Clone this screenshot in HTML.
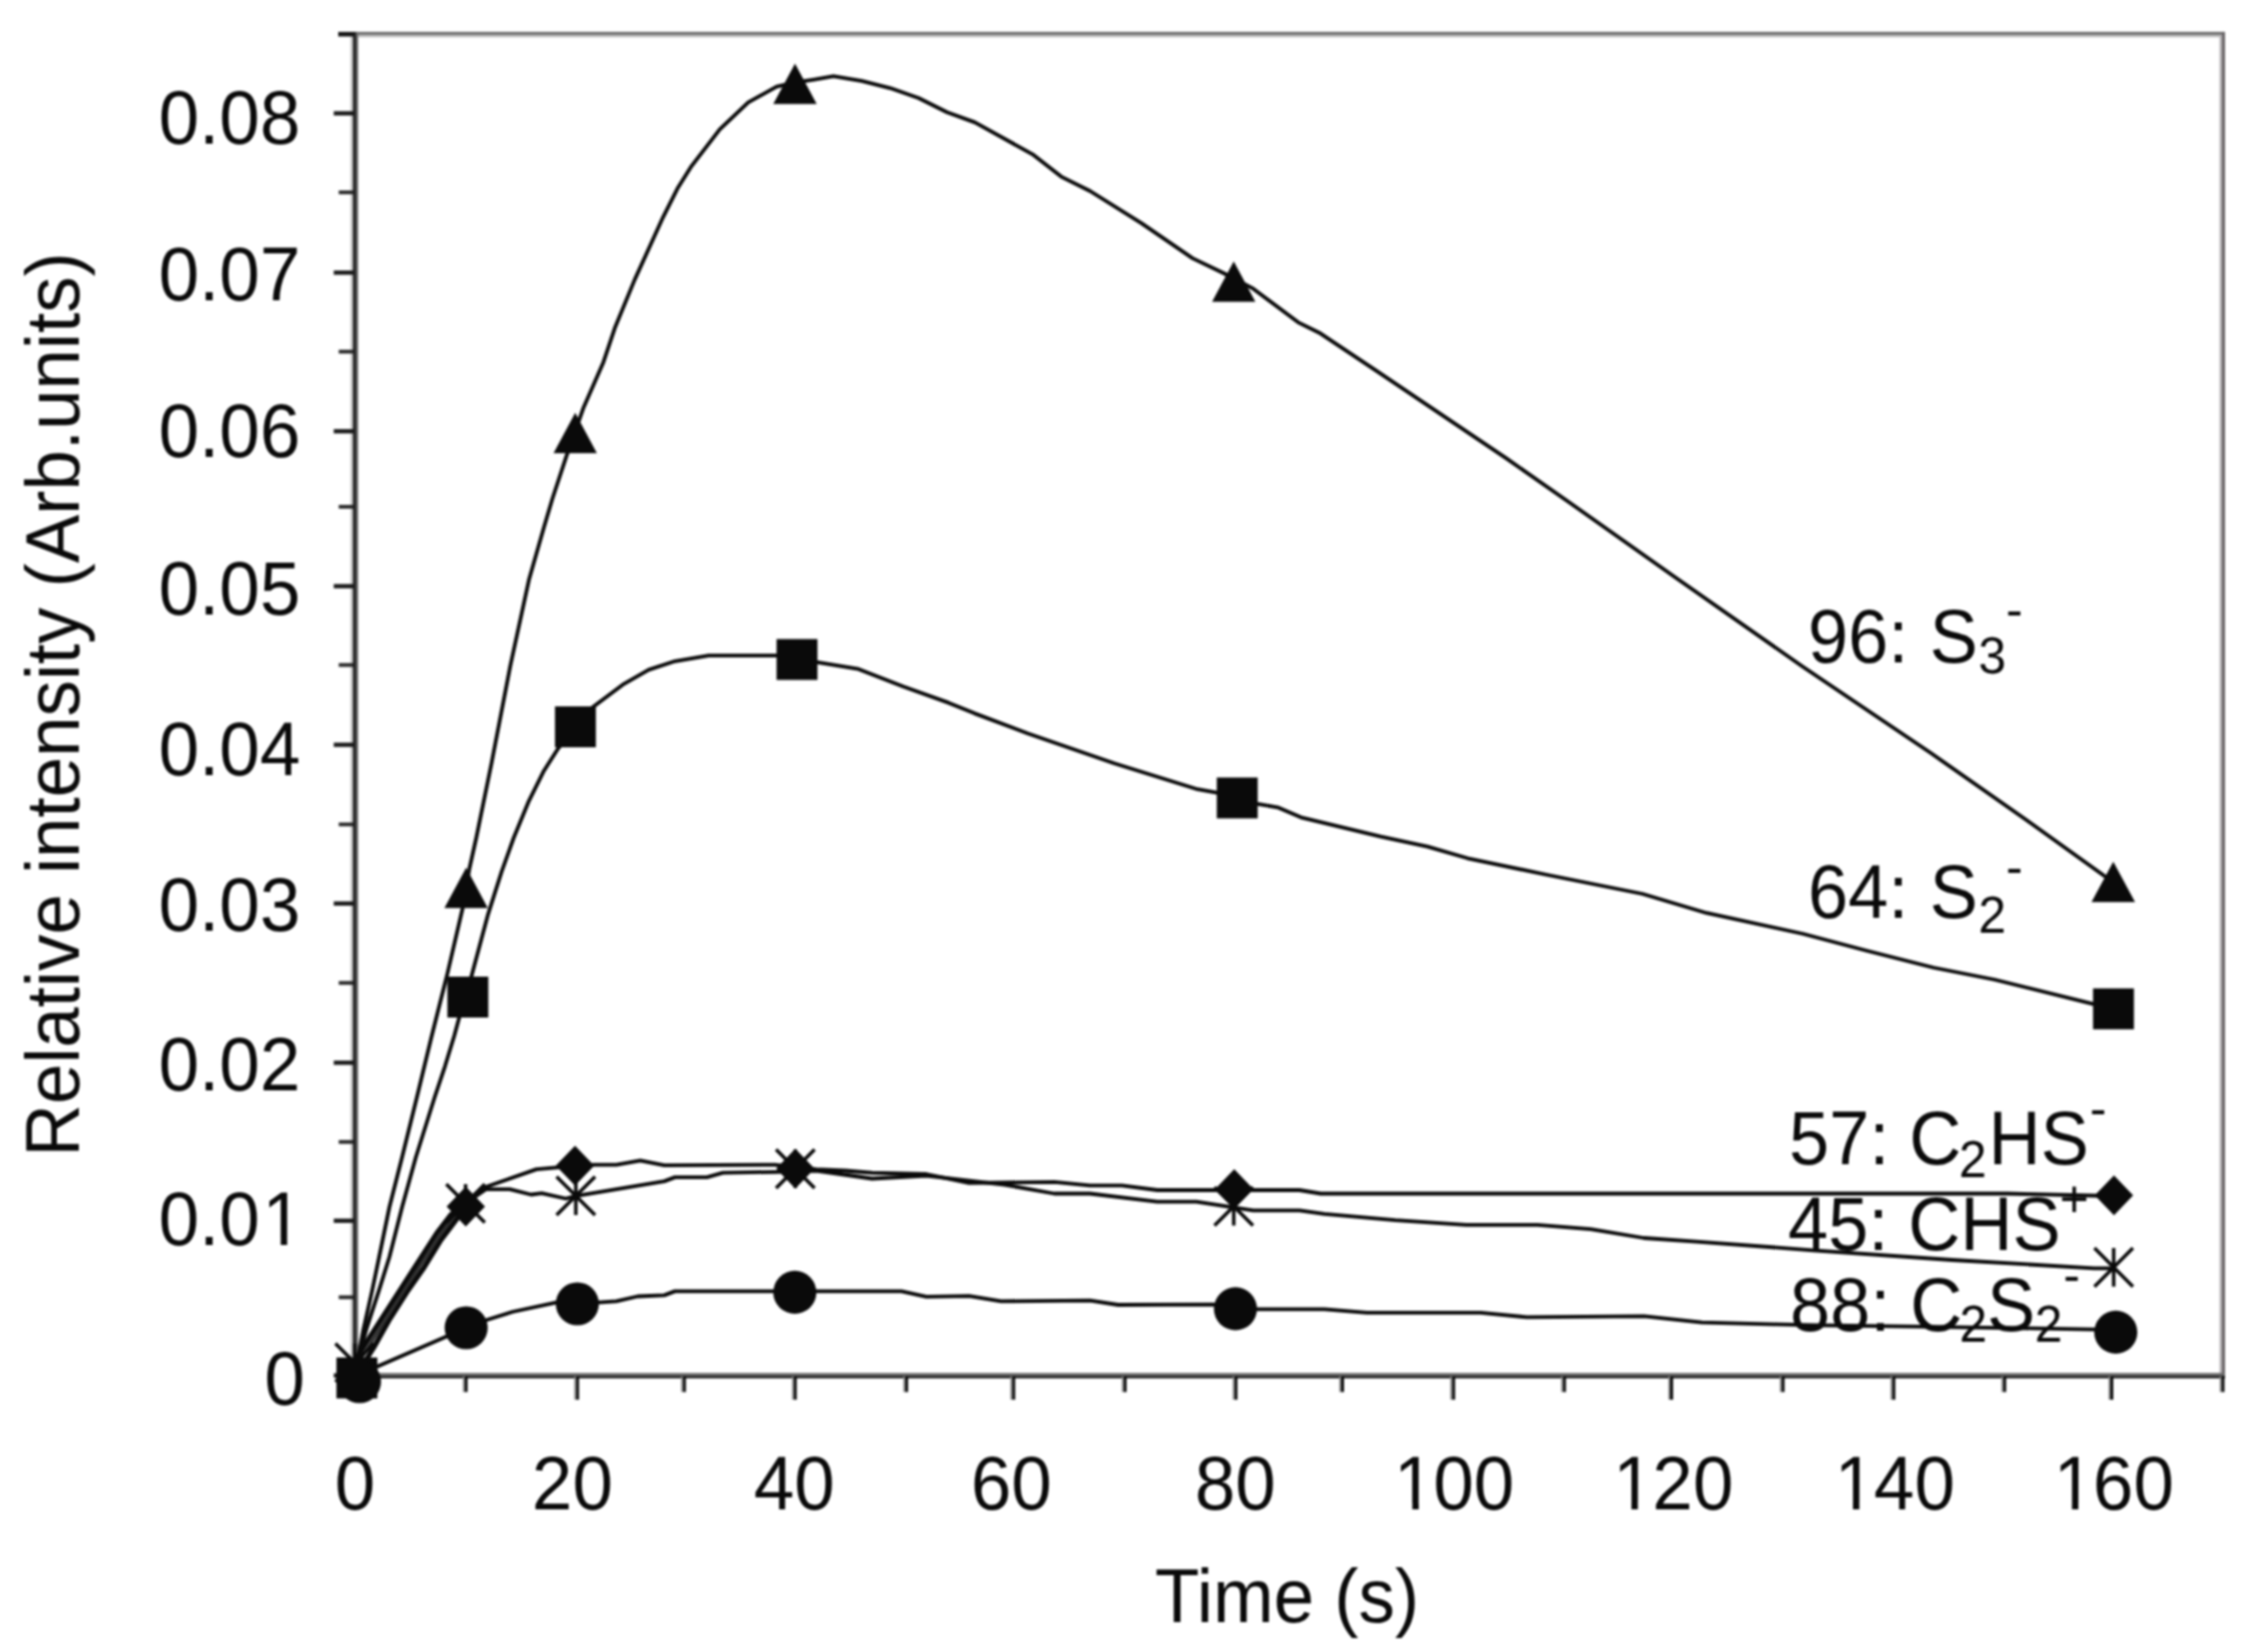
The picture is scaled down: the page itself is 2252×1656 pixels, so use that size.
<!DOCTYPE html>
<html lang="en">
<head>
<meta charset="utf-8">
<title>Relative intensity vs time</title>
<style>
html,body{margin:0;padding:0;background:#fff;}
body{width:2252px;height:1656px;overflow:hidden;}
svg{display:block;filter:blur(1.0px);}
svg text{font-family:"Liberation Sans",Arial,Helvetica,sans-serif;fill:#0a0a0a;}
</style>
</head>
<body>
<svg width="2252" height="1656" viewBox="0 0 2252 1656">
<rect x="0" y="0" width="2252" height="1656" fill="#ffffff"/>
<rect x="356.30" y="31.95" width="1873.70" height="2.95" fill="#6b6b6b"/>
<rect x="356.30" y="34.90" width="1870.70" height="2.40" fill="#b9b9b9"/>
<rect x="2224.50" y="34.90" width="2.40" height="1344.10" fill="#b6b3b6"/>
<rect x="2226.90" y="31.95" width="3.10" height="1347.05" fill="#6a6668"/>
<rect x="351.30" y="31.95" width="2.50" height="1349.65" fill="#c4c4c4"/>
<rect x="353.80" y="31.95" width="3.10" height="1349.65" fill="#1c1c1c"/>
<rect x="356.90" y="31.95" width="2.15" height="1349.65" fill="#6a6a6a"/>
<rect x="336.50" y="1376.30" width="1893.50" height="2.90" fill="#686868"/>
<rect x="336.50" y="1379.20" width="1893.50" height="2.40" fill="#111111"/>
<rect x="334.50" y="1376.65" width="19.50" height="4.30" fill="#1a1a1a"/>
<rect x="339.50" y="1298.50" width="14.50" height="3.80" fill="#2a2a2a"/>
<rect x="334.50" y="1221.55" width="19.50" height="4.30" fill="#1a1a1a"/>
<rect x="339.50" y="1142.80" width="14.50" height="3.80" fill="#2a2a2a"/>
<rect x="334.50" y="1063.15" width="19.50" height="4.30" fill="#1a1a1a"/>
<rect x="339.50" y="983.40" width="14.50" height="3.80" fill="#2a2a2a"/>
<rect x="334.50" y="903.55" width="19.50" height="4.30" fill="#1a1a1a"/>
<rect x="339.50" y="824.50" width="14.50" height="3.80" fill="#2a2a2a"/>
<rect x="334.50" y="744.45" width="19.50" height="4.30" fill="#1a1a1a"/>
<rect x="339.50" y="664.70" width="14.50" height="3.80" fill="#2a2a2a"/>
<rect x="334.50" y="585.45" width="19.50" height="4.30" fill="#1a1a1a"/>
<rect x="339.50" y="506.10" width="14.50" height="3.80" fill="#2a2a2a"/>
<rect x="334.50" y="430.15" width="19.50" height="4.30" fill="#1a1a1a"/>
<rect x="339.50" y="350.60" width="14.50" height="3.80" fill="#2a2a2a"/>
<rect x="334.50" y="271.15" width="19.50" height="4.30" fill="#1a1a1a"/>
<rect x="339.50" y="190.90" width="14.50" height="3.80" fill="#2a2a2a"/>
<rect x="334.50" y="111.45" width="19.50" height="4.30" fill="#1a1a1a"/>
<rect x="339.00" y="31.95" width="15.00" height="4.65" fill="#151515"/>
<rect x="353.45" y="1379.80" width="1.90" height="23.30" fill="#8a8a8a"/>
<rect x="355.35" y="1379.80" width="2.85" height="23.30" fill="#050505"/>
<rect x="463.85" y="1379.80" width="1.90" height="15.60" fill="#8a8a8a"/>
<rect x="465.75" y="1379.80" width="2.85" height="15.60" fill="#050505"/>
<rect x="575.55" y="1379.80" width="1.90" height="23.30" fill="#8a8a8a"/>
<rect x="577.45" y="1379.80" width="2.85" height="23.30" fill="#050505"/>
<rect x="682.65" y="1379.80" width="1.90" height="15.60" fill="#8a8a8a"/>
<rect x="684.55" y="1379.80" width="2.85" height="15.60" fill="#050505"/>
<rect x="793.75" y="1379.80" width="1.90" height="23.30" fill="#8a8a8a"/>
<rect x="795.65" y="1379.80" width="2.85" height="23.30" fill="#050505"/>
<rect x="905.35" y="1379.80" width="1.90" height="15.60" fill="#8a8a8a"/>
<rect x="907.25" y="1379.80" width="2.85" height="15.60" fill="#050505"/>
<rect x="1012.65" y="1379.80" width="1.90" height="23.30" fill="#8a8a8a"/>
<rect x="1014.55" y="1379.80" width="2.85" height="23.30" fill="#050505"/>
<rect x="1124.35" y="1379.80" width="1.90" height="15.60" fill="#8a8a8a"/>
<rect x="1126.25" y="1379.80" width="2.85" height="15.60" fill="#050505"/>
<rect x="1235.45" y="1379.80" width="1.90" height="23.30" fill="#8a8a8a"/>
<rect x="1237.35" y="1379.80" width="2.85" height="23.30" fill="#050505"/>
<rect x="1342.25" y="1379.80" width="1.90" height="15.60" fill="#8a8a8a"/>
<rect x="1344.15" y="1379.80" width="2.85" height="15.60" fill="#050505"/>
<rect x="1453.55" y="1379.80" width="1.90" height="23.30" fill="#8a8a8a"/>
<rect x="1455.45" y="1379.80" width="2.85" height="23.30" fill="#050505"/>
<rect x="1564.65" y="1379.80" width="1.90" height="15.60" fill="#8a8a8a"/>
<rect x="1566.55" y="1379.80" width="2.85" height="15.60" fill="#050505"/>
<rect x="1672.05" y="1379.80" width="1.90" height="23.30" fill="#8a8a8a"/>
<rect x="1673.95" y="1379.80" width="2.85" height="23.30" fill="#050505"/>
<rect x="1783.75" y="1379.80" width="1.90" height="15.60" fill="#8a8a8a"/>
<rect x="1785.65" y="1379.80" width="2.85" height="15.60" fill="#050505"/>
<rect x="1894.75" y="1379.80" width="1.90" height="23.30" fill="#8a8a8a"/>
<rect x="1896.65" y="1379.80" width="2.85" height="23.30" fill="#050505"/>
<rect x="2005.85" y="1379.80" width="1.90" height="15.60" fill="#8a8a8a"/>
<rect x="2007.75" y="1379.80" width="2.85" height="15.60" fill="#050505"/>
<rect x="2113.25" y="1379.80" width="1.90" height="23.30" fill="#8a8a8a"/>
<rect x="2115.15" y="1379.80" width="2.85" height="23.30" fill="#050505"/>
<rect x="2224.65" y="1379.80" width="1.90" height="15.60" fill="#8a8a8a"/>
<rect x="2226.55" y="1379.80" width="2.85" height="15.60" fill="#050505"/>
<polyline points="357.5,1368.0 364.3,1332.4 373.0,1293.7 380.0,1260.0 390.3,1210.0 403.0,1160.0 417.8,1100.0 432.3,1040.0 448.5,975.6 463.7,910.3 470.5,870.5 477.3,840.0 492.6,765.2 511.4,667.7 530.1,581.3 545.1,528.8 553.6,500.0 567.8,456.8 584.9,408.4 604.8,362.9 616.2,328.8 636.1,280.4 664.5,217.8 678.8,189.3 693.0,166.6 721.4,129.6 749.9,102.6 778.3,86.9 796.8,82.6 815.3,79.8 835.3,76.4 863.7,81.2 892.2,88.3 920.6,98.3 949.1,112.5 977.0,122.6 1034.7,154.6 1063.6,177.1 1092.5,191.5 1143.8,223.6 1195.2,258.9 1227.2,274.3 1256.1,289.4 1301.0,323.1 1323.5,334.3 1381.2,372.8 1445.4,416.1 1509.6,459.4 1573.7,504.3 1678.3,578.3 1806.7,668.2 1935.0,754.8 2031.3,822.2 2108.3,877.5 2118.0,884.0" fill="none" stroke="#0a0a0a" stroke-width="3.8" stroke-linejoin="round" stroke-linecap="round"/>
<polyline points="357.5,1368.0 367.2,1332.4 379.8,1293.7 390.3,1260.0 403.0,1210.0 416.8,1160.0 435.6,1100.0 446.0,1068.8 455.3,1038.3 460.3,1019.7 472.2,979.8 489.2,916.3 502.7,873.9 514.8,840.0 530.1,802.8 545.1,772.7 559.4,750.2 576.7,728.6 593.9,708.9 624.0,686.4 650.2,671.4 676.5,662.8 710.3,657.1 778.6,657.1 819.1,663.9 860.4,670.7 905.4,688.3 950.5,704.4 976.7,715.1 1030.1,735.2 1116.9,765.2 1200.3,791.2 1219.7,794.6 1260.4,805.9 1280.4,809.3 1303.8,819.3 1383.9,838.6 1430.6,848.6 1470.7,860.3 1550.8,877.0 1646.0,896.0 1710.4,915.2 1806.7,936.0 1870.9,953.0 1938.0,970.0 1999.0,982.0 2097.7,1006.3 2118.0,1009.0" fill="none" stroke="#0a0a0a" stroke-width="3.8" stroke-linejoin="round" stroke-linecap="round"/>
<polyline points="357.5,1378.0 374.5,1351.0 390.6,1322.3 409.0,1293.5 425.1,1270.5 441.2,1244.1 455.0,1225.7 466.8,1209.5 484.2,1190.8 537.6,1172.1 557.6,1170.3 595.0,1167.6 617.7,1167.6 641.7,1163.3 665.8,1168.1 776.6,1167.6 818.0,1172.1 847.3,1173.5 874.0,1175.6 928.5,1177.0 971.2,1185.9 1056.7,1184.8 1092.3,1188.4 1124.3,1188.4 1159.9,1193.0 1302.3,1193.0 1323.7,1196.5 2012.0,1196.5 2118.7,1199.0" fill="none" stroke="#0a0a0a" stroke-width="3.8" stroke-linejoin="round" stroke-linecap="round"/>
<polyline points="357.6,1361.0 371.1,1339.5 404.4,1287.8 437.8,1236.0 452.0,1217.5 466.6,1206.3 486.9,1192.1 510.9,1192.1 532.3,1197.5 542.9,1196.2 567.0,1201.5 577.1,1198.8 593.7,1196.2 665.8,1184.1 676.4,1180.1 708.5,1180.1 724.5,1175.6 776.6,1174.8 818.0,1173.5 874.0,1181.5 928.5,1178.7 1006.8,1187.6 1056.7,1196.5 1092.3,1196.5 1159.9,1204.7 1199.0,1204.7 1256.0,1213.3 1302.3,1213.3 1327.2,1216.8 1398.4,1223.2 1469.6,1227.9 1540.8,1227.9 1594.2,1232.1 1647.6,1241.0 1700.0,1244.6 1817.0,1253.3 1956.3,1263.0 2098.9,1271.3 2118.4,1271.3" fill="none" stroke="#0a0a0a" stroke-width="3.8" stroke-linejoin="round" stroke-linecap="round"/>
<polyline points="357.0,1379.0 446.3,1340.3 488.2,1323.0 513.6,1315.0 557.6,1305.6 599.5,1305.6 617.7,1304.3 639.1,1299.5 665.8,1298.4 676.4,1294.4 903.4,1294.4 928.5,1299.8 971.2,1299.1 1003.2,1304.4 1092.3,1303.7 1120.7,1308.0 1216.2,1307.6 1260.3,1312.3 1327.2,1312.3 1370.0,1315.8 1483.9,1315.8 1530.2,1320.4 1647.6,1319.4 1705.7,1325.6 1817.0,1328.4 1928.4,1329.8 2098.0,1332.6 2120.0,1332.6" fill="none" stroke="#0a0a0a" stroke-width="3.8" stroke-linejoin="round" stroke-linecap="round"/>
<polyline points="357.6,1361.0 371.1,1339.5 404.4,1287.8 437.8,1236.0 452.0,1217.5 464.0,1208.0" fill="none" stroke="#0a0a0a" stroke-width="5.0" stroke-linejoin="round" stroke-linecap="round"/>
<polyline points="357.5,1378.0 374.5,1351.0 390.6,1322.3 409.0,1293.5 425.1,1270.5 441.2,1244.1 455.0,1225.7 466.8,1209.5" fill="none" stroke="#0a0a0a" stroke-width="5.0" stroke-linejoin="round" stroke-linecap="round"/>
<polyline points="357.6,1369 376,1339.5 408.7,1287.8 442.5,1236 456.5,1217.5 465,1209" fill="none" stroke="#2e2e2e" stroke-width="3.2"/>
<polygon points="357.5,1361.0 376.5,1399.0 338.5,1399.0" fill="#0a0a0a"/>
<polygon points="467.2,869.8 488.9,910.2 445.4,910.2" fill="#0a0a0a"/>
<polygon points="576.5,413.8 598.2,454.2 554.8,454.2" fill="#0a0a0a"/>
<polygon points="796.8,63.8 818.5,104.2 775.0,104.2" fill="#0a0a0a"/>
<polygon points="1236.5,261.9 1258.2,302.4 1214.8,302.4" fill="#0a0a0a"/>
<polygon points="2118.0,863.8 2139.8,904.2 2096.2,904.2" fill="#0a0a0a"/>
<rect x="337.2" y="1360.8" width="41" height="41" fill="#0a0a0a"/>
<rect x="448.4" y="979.0" width="41" height="41" fill="#0a0a0a"/>
<rect x="556.2" y="708.1" width="41" height="41" fill="#0a0a0a"/>
<rect x="778.3" y="640.6" width="41" height="41" fill="#0a0a0a"/>
<rect x="1219.5" y="779.4" width="41" height="41" fill="#0a0a0a"/>
<rect x="2097.7" y="990.8" width="41" height="41" fill="#0a0a0a"/>
<polygon points="357.5,1359.0 376.8,1379.0 357.5,1399.0 338.2,1379.0" fill="#0a0a0a"/>
<polygon points="466.8,1189.5 486.1,1209.5 466.8,1229.5 447.6,1209.5" fill="#0a0a0a"/>
<polygon points="576.3,1148.4 595.5,1168.4 576.3,1188.4 557.0,1168.4" fill="#0a0a0a"/>
<polygon points="797.1,1151.6 816.4,1171.6 797.1,1191.6 777.9,1171.6" fill="#0a0a0a"/>
<polygon points="1237.0,1172.0 1256.2,1192.0 1237.0,1212.0 1217.8,1192.0" fill="#0a0a0a"/>
<polygon points="2118.7,1178.3 2137.9,1198.3 2118.7,1218.3 2099.4,1198.3" fill="#0a0a0a"/>
<path d="M355.5,1346.7V1385.3M336.2,1346.7L374.8,1385.3M374.8,1346.7L336.2,1385.3" stroke="#0a0a0a" stroke-width="3.5" fill="none"/>
<path d="M466.6,1187.0V1225.6M447.3,1187.0L485.9,1225.6M485.9,1187.0L447.3,1225.6" stroke="#0a0a0a" stroke-width="3.5" fill="none"/>
<path d="M577.1,1179.5V1218.1M557.8,1179.5L596.4,1218.1M596.4,1179.5L557.8,1218.1" stroke="#0a0a0a" stroke-width="3.5" fill="none"/>
<path d="M797.1,1152.3V1190.9M777.8,1152.3L816.4,1190.9M816.4,1152.3L777.8,1190.9" stroke="#0a0a0a" stroke-width="3.5" fill="none"/>
<path d="M1236.5,1190.0V1228.6M1217.2,1190.0L1255.8,1228.6M1255.8,1190.0L1217.2,1228.6" stroke="#0a0a0a" stroke-width="3.5" fill="none"/>
<path d="M2118.4,1251.1V1289.7M2099.1,1251.1L2137.7,1289.7M2137.7,1251.1L2099.1,1289.7" stroke="#0a0a0a" stroke-width="3.5" fill="none"/>
<circle cx="360.3" cy="1385.0" r="21.6" fill="#0a0a0a"/>
<circle cx="467.2" cy="1331.0" r="21.6" fill="#0a0a0a"/>
<circle cx="578.6" cy="1307.0" r="21.6" fill="#0a0a0a"/>
<circle cx="796.6" cy="1295.4" r="21.6" fill="#0a0a0a"/>
<circle cx="1238.2" cy="1311.9" r="21.6" fill="#0a0a0a"/>
<circle cx="2120.5" cy="1335.4" r="21.6" fill="#0a0a0a"/>
<text transform="translate(301.00,143.50) scale(0.9569,1)" font-size="76.28" text-anchor="end" >0.08</text>
<text transform="translate(301.00,300.60) scale(0.9569,1)" font-size="76.28" text-anchor="end" >0.07</text>
<text transform="translate(301.00,458.00) scale(0.9569,1)" font-size="76.28" text-anchor="end" >0.06</text>
<text transform="translate(301.00,616.00) scale(0.9569,1)" font-size="76.28" text-anchor="end" >0.05</text>
<text transform="translate(301.00,776.80) scale(0.9569,1)" font-size="76.28" text-anchor="end" >0.04</text>
<text transform="translate(301.00,932.50) scale(0.9569,1)" font-size="76.28" text-anchor="end" >0.03</text>
<text transform="translate(301.00,1093.20) scale(0.9569,1)" font-size="76.28" text-anchor="end" >0.02</text>
<text transform="translate(158.92,1248.30) scale(0.9569,1)" font-size="76.28" text-anchor="start" dx="0 0 0 2.72">0.01</text>
<rect x="267.35" y="1241.80" width="14.01" height="7.70" fill="#fff"/>
<rect x="287.81" y="1241.80" width="13.44" height="7.70" fill="#fff"/>
<text transform="translate(305.50,1407.60) scale(0.9569,1)" font-size="76.28" text-anchor="end" >0</text>
<text transform="translate(355.75,1513.40) scale(0.9569,1)" font-size="76.28" text-anchor="middle" >0</text>
<text transform="translate(573.65,1513.40) scale(0.9569,1)" font-size="76.28" text-anchor="middle" >20</text>
<text transform="translate(796.00,1513.40) scale(0.9569,1)" font-size="76.28" text-anchor="middle" >40</text>
<text transform="translate(1013.50,1513.40) scale(0.9569,1)" font-size="76.28" text-anchor="middle" >60</text>
<text transform="translate(1238.00,1513.40) scale(0.9569,1)" font-size="76.28" text-anchor="middle" >80</text>
<text transform="translate(1395.90,1513.40) scale(0.9569,1)" font-size="76.28" text-anchor="start" dx="1.25 -1.25 0">100</text>
<rect x="1401.45" y="1506.90" width="14.01" height="7.70" fill="#fff"/>
<rect x="1421.91" y="1506.90" width="13.44" height="7.70" fill="#fff"/>
<text transform="translate(1615.50,1513.40) scale(0.9569,1)" font-size="76.28" text-anchor="start" dx="1.25 -1.25 0">120</text>
<rect x="1621.05" y="1506.90" width="14.01" height="7.70" fill="#fff"/>
<rect x="1641.51" y="1506.90" width="13.44" height="7.70" fill="#fff"/>
<text transform="translate(1837.50,1513.40) scale(0.9569,1)" font-size="76.28" text-anchor="start" dx="1.25 -1.25 0">140</text>
<rect x="1843.05" y="1506.90" width="14.01" height="7.70" fill="#fff"/>
<rect x="1863.51" y="1506.90" width="13.44" height="7.70" fill="#fff"/>
<text transform="translate(2057.00,1513.40) scale(0.9569,1)" font-size="76.28" text-anchor="start" dx="1.25 -1.25 0">160</text>
<rect x="2062.55" y="1506.90" width="14.01" height="7.70" fill="#fff"/>
<rect x="2083.01" y="1506.90" width="13.44" height="7.70" fill="#fff"/>
<text transform="translate(1290.00,1626.00) scale(0.9569,1)" font-size="76.28" text-anchor="middle" >Time (s)</text>
<text transform="translate(78.60,1159.40) rotate(-90) scale(0.9569,1)" font-size="76.28" text-anchor="start" textLength="947.3" lengthAdjust="spacingAndGlyphs">Relative intensity (Arb.units)</text>
<text transform="translate(1812.00,664.30) scale(0.9569,1)" font-size="75.55" text-anchor="start" ><tspan dx="0.00" dy="0.00">96:</tspan><tspan dx="1.57" dy="0.00"> S</tspan><tspan font-size="52.25" dx="0.52" dy="10.50">3</tspan><tspan font-size="52.25" dx="0.00" dy="-46.00">-</tspan></text>
<text transform="translate(1812.00,920.00) scale(0.9569,1)" font-size="75.55" text-anchor="start" ><tspan dx="0.00" dy="0.00">64:</tspan><tspan dx="1.57" dy="0.00"> S</tspan><tspan font-size="52.25" dx="0.52" dy="14.50">2</tspan><tspan font-size="52.25" dx="0.00" dy="-47.50">-</tspan></text>
<text transform="translate(1793.00,1166.90) scale(0.9569,1)" font-size="75.55" text-anchor="start" ><tspan dx="0.00" dy="0.00">57: C</tspan><tspan font-size="52.25" dx="-2.61" dy="13.00">2</tspan><tspan dx="2.09" dy="-13.00">HS</tspan><tspan font-size="52.25" dx="1.04" dy="-38.00">-</tspan></text>
<text transform="translate(1792.00,1253.20) scale(0.9569,1)" font-size="75.55" text-anchor="start" ><tspan dx="0.00" dy="0.00">45: CHS</tspan><tspan font-size="52.25" dx="-1.04" dy="-33.50">+</tspan></text>
<text transform="translate(1794.00,1334.00) scale(0.9569,1)" font-size="75.55" text-anchor="start" ><tspan dx="0.00" dy="0.00">88: C</tspan><tspan font-size="52.25" dx="-3.13" dy="10.50">2</tspan><tspan dx="0.00" dy="-10.50">S</tspan><tspan font-size="52.25" dx="-0.52" dy="10.50">2</tspan><tspan font-size="52.25" dx="1.04" dy="-48.50">-</tspan></text>
</svg>
</body>
</html>
